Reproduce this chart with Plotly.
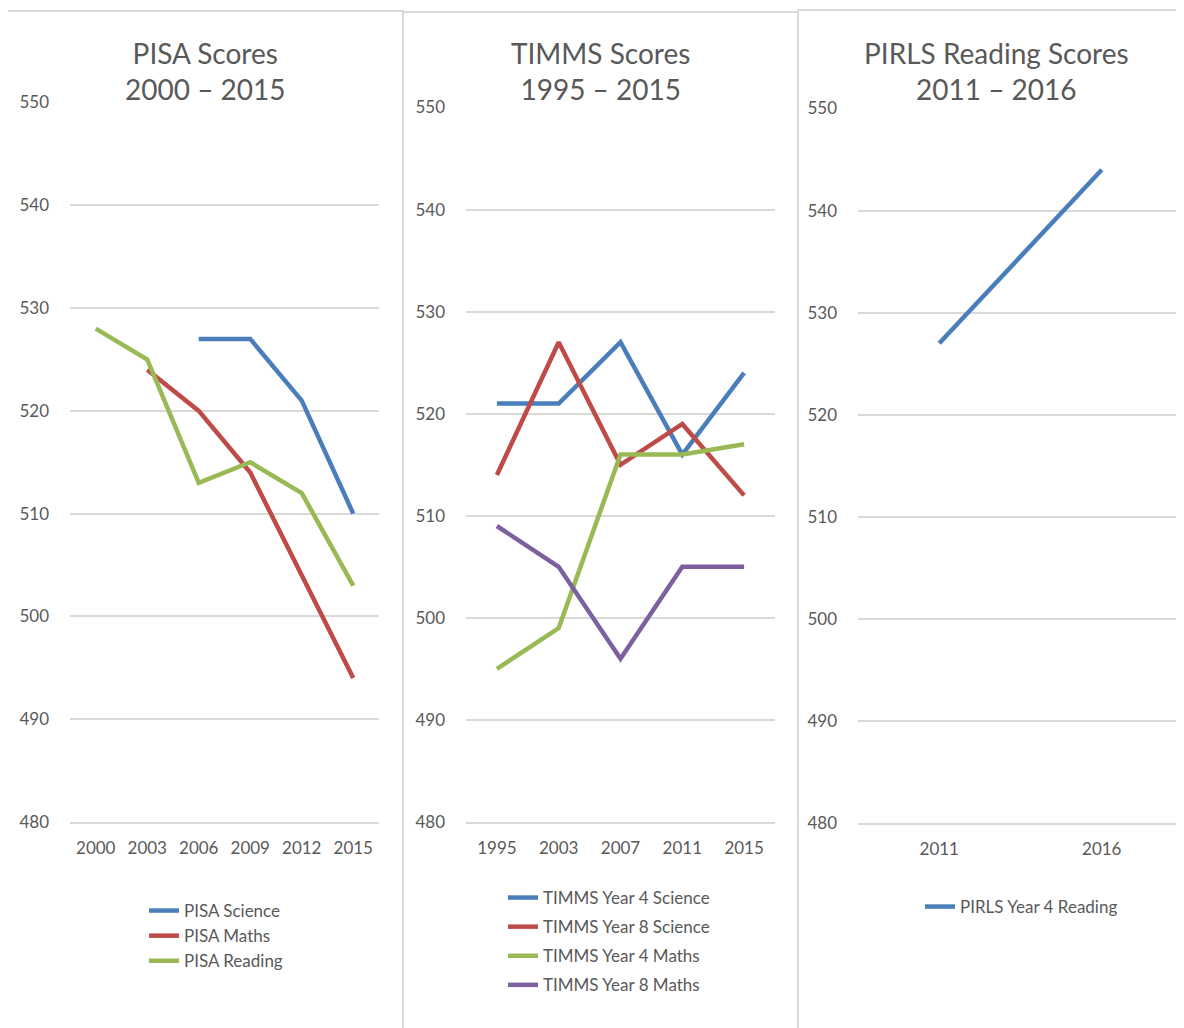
import plotly.graph_objects as go

W, H = 1184, 1028
OFF = 8  # page body margin offset

pisa_years = ["2000", "2003", "2006", "2009", "2012", "2015"]
pisa_science = [None, None, 527, 527, 521, 510]
pisa_maths = [None, 524, 520, 514, 504, 494]
pisa_reading = [528, 525, 513, 515, 512, 503]

timms_years = ["1995", "2003", "2007", "2011", "2015"]
timms_y4_science = [521, 521, 527, 516, 524]
timms_y8_science = [514, 527, 515, 519, 512]
timms_y4_maths = [495, 499, 516, 516, 517]
timms_y8_maths = [509, 505, 496, 505, 505]

pirls_years = ["2011", "2016"]
pirls_y4_reading = [527, 544]

y_ticks = [480, 490, 500, 510, 520, 530, 540, 550]

BLUE, RED, GREEN, PURPLE = "#4A7EBB", "#BE4B48", "#98B954", "#7D60A0"
TXT = "#595959"
GRID = "#D9D9D9"
FONT = "Lato"


def px(x):
    return (x - OFF) / W


def py(y):
    return 1 - (y - OFF) / H


fig = go.Figure()


def add(x, y, name, color, xa, ya, legend, group):
    fig.add_trace(go.Scatter(
        x=x, y=y, name=name, mode="lines",
        line=dict(color=color, width=4.5),
        xaxis=xa, yaxis=ya, legend=legend, legendgroup=group,
        connectgaps=False, hoverinfo="x+y+name"))


add(pisa_years, pisa_science, "PISA Science", BLUE, "x", "y", "legend", "a")
add(pisa_years, pisa_maths, "PISA Maths", RED, "x", "y", "legend", "a")
add(pisa_years, pisa_reading, "PISA Reading", GREEN, "x", "y", "legend", "a")

add(timms_years, timms_y4_science, "TIMMS Year 4 Science", BLUE, "x2", "y2", "legend2", "b1")
add(timms_years, timms_y8_science, "TIMMS Year 8 Science", RED, "x2", "y2", "legend2", "b2")
add(timms_years, timms_y4_maths, "TIMMS Year 4 Maths", GREEN, "x2", "y2", "legend2", "b3")
add(timms_years, timms_y8_maths, "TIMMS Year 8 Maths", PURPLE, "x2", "y2", "legend2", "b4")

add(pirls_years, pirls_y4_reading, "PIRLS Year 4 Reading", BLUE, "x3", "y3", "legend3", "c")

panels = [
    # x domain px, y domain px (top,bottom), axis suffix, n categories
    ((70, 379), (102, 822), "", len(pisa_years)),
    ((466, 775), (107, 822), "2", len(timms_years)),
    ((858, 1183), (108, 823), "3", len(pirls_years)),
]

layout = dict(
    width=W, height=H,
    margin=dict(l=0, r=0, t=0, b=0, autoexpand=False),
    paper_bgcolor="white", plot_bgcolor="white",
    font=dict(family=FONT, color=TXT, size=17),
    showlegend=True,
)

for (x0, x1), (yt, yb), s, n in panels:
    layout["xaxis" + s] = dict(
        domain=[px(x0), px(x1)], anchor="y" + s, type="category",
        range=[-0.5, n - 0.5],
        showgrid=False, showline=True, linecolor=GRID, linewidth=1.5,
        ticks="", tickfont=dict(size=17, color=TXT, family=FONT),
        ticklabelstandoff=10, fixedrange=True,
    )
    layout["yaxis" + s] = dict(
        domain=[py(yb), py(yt)], anchor="x" + s, range=[480, 550.05],
        tickvals=y_ticks, showgrid=True, gridcolor=GRID, gridwidth=1.5,
        showline=False, zeroline=False, ticks="",
        tickfont=dict(size=17, color=TXT, family=FONT),
        ticklabelstandoff=20, fixedrange=True,
    )

leg_common = dict(
    xanchor="left", yanchor="top", bgcolor="rgba(0,0,0,0)",
    font=dict(size=17, color=TXT, family=FONT), itemclick=False,
    itemdoubleclick=False, traceorder="normal",
)
layout["legend"] = dict(x=px(144), y=py(893), **leg_common)
layout["legend2"] = dict(x=px(503), y=py(880), tracegroupgap=4,
                         **{**leg_common, "traceorder": "grouped"})
layout["legend3"] = dict(x=px(920), y=py(889), **leg_common)

fig.update_layout(**layout)

titles = [
    ("PISA Scores<br>2000 – 2015", 205),
    ("TIMMS Scores<br>1995 – 2015", 600),
    ("PIRLS Reading Scores<br>2011 – 2016", 996),
]
for t, cx in titles:
    fig.add_annotation(text=t, x=px(cx), y=py(70.5), xref="paper", yref="paper",
                       xanchor="center", yanchor="middle", showarrow=False,
                       font=dict(size=28, color=TXT, family=FONT))

# panel borders
borders = [(7, 11, 403), (403, 12, 798), (798, 10, 1200)]
for x0, y0, x1 in borders:
    fig.add_shape(type="rect", xref="paper", yref="paper",
                  x0=px(x0), x1=px(x1), y0=py(y0), y1=py(1045),
                  line=dict(color=GRID, width=2), fillcolor="rgba(0,0,0,0)",
                  layer="below")

fig.write_html("out.html")
